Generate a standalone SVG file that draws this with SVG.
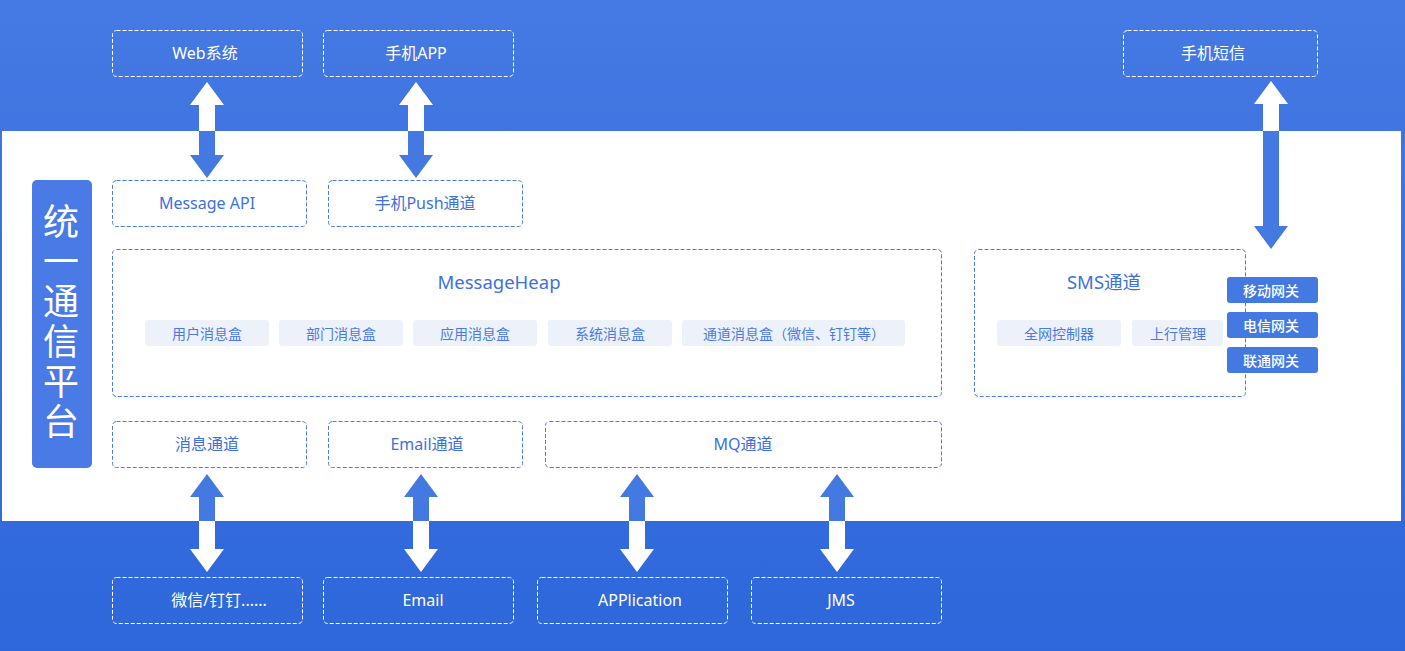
<svg xmlns="http://www.w3.org/2000/svg" width="1405" height="651" viewBox="0 0 1405 651">
<defs>
<linearGradient id="bg" x1="0" y1="0" x2="0" y2="1">
<stop offset="0" stop-color="#4579e3"/>
<stop offset="1" stop-color="#2e67db"/>
</linearGradient>
<clipPath id="band"><rect x="2" y="131" width="1399" height="390"/></clipPath>
<path id="arrUp" d="M0,0 L17,23 L8,23 L8,73 L17,73 L0,96 L-17,73 L-8,73 L-8,23 L-17,23 Z"/>
<path id="arrLong" d="M0,0 L17,23 L8,23 L8,145 L17,145 L0,168 L-17,145 L-8,145 L-8,23 L-17,23 Z"/>
<path id="arrLow" d="M0,0 L17,23 L8,23 L8,75 L17,75 L0,98 L-17,75 L-8,75 L-8,23 L-17,23 Z"/>
</defs>
<style>
text{font-family:"Noto Sans","Noto Sans CJK SC",sans-serif;text-anchor:middle;dominant-baseline:central}
.outer{fill:none;stroke:#ffffff;stroke-width:1;stroke-dasharray:4 2}
.inner{fill:#ffffff;stroke:#4a7ae6;stroke-width:1;stroke-dasharray:4 2}
.wt{fill:#ffffff;font-size:16px}
.bt{fill:#3d71e0;font-size:16px}
.ht{fill:#3d71e0;font-size:18.5px}
.pill{fill:#edf1f9}
.pt{fill:#4a7ae6;font-size:14px}
.gw{fill:#4479e2}
.gt{fill:#ffffff;font-size:14px;font-weight:500}
.aw{fill:#ffffff}
.ab{fill:#4479e2}
.vt{fill:#ffffff;font-size:36px;writing-mode:vertical-rl;letter-spacing:4px;font-family:"Noto Sans CJK SC",sans-serif}
</style>
<rect x="0" y="0" width="1405" height="651" fill="url(#bg)"/>
<rect x="2" y="131" width="1399" height="390" fill="#ffffff"/>

<g id="connectors">
<g>
<use href="#arrUp" x="207" y="82" class="aw"/>
<use href="#arrUp" x="416" y="82" class="aw"/>
<use href="#arrLong" x="1271" y="81" class="aw"/>
<use href="#arrLow" x="207" y="474" class="aw"/>
<use href="#arrLow" x="421" y="474" class="aw"/>
<use href="#arrLow" x="637" y="474" class="aw"/>
<use href="#arrLow" x="837" y="474" class="aw"/>
</g>
<g clip-path="url(#band)">
<use href="#arrUp" x="207" y="82" class="ab"/>
<use href="#arrUp" x="416" y="82" class="ab"/>
<use href="#arrLong" x="1271" y="81" class="ab"/>
<use href="#arrLow" x="207" y="474" class="ab"/>
<use href="#arrLow" x="421" y="474" class="ab"/>
<use href="#arrLow" x="637" y="474" class="ab"/>
<use href="#arrLow" x="837" y="474" class="ab"/>
</g>
</g>

<g id="platform">
<rect x="32" y="180" width="60" height="288" rx="5" fill="#4a7ae6"/>
<text x="61" y="203" class="vt" style="text-anchor:start">统一通信平台</text>
</g>

<g id="web"><rect x="112.5" y="30.5" width="190" height="46" rx="4" class="outer"/><text x="205" y="53" class="wt">Web系统</text></g>
<g id="app"><rect x="323.5" y="30.5" width="190" height="46" rx="4" class="outer"/><text x="416" y="53" class="wt">手机APP</text></g>
<g id="sms-phone"><rect x="1123.5" y="30.5" width="194" height="46" rx="4" class="outer"/><text x="1213" y="53" class="wt">手机短信</text></g>

<g id="msgapi"><rect x="112.5" y="180.5" width="194" height="46" rx="4" class="inner"/><text x="207" y="203" class="bt">Message API</text></g>
<g id="push"><rect x="328.5" y="180.5" width="194" height="46" rx="4" class="inner"/><text x="425" y="203" class="bt">手机Push通道</text></g>

<g id="heap">
<rect x="112.5" y="249.5" width="829" height="147" rx="4" class="inner"/>
<text x="499" y="281" class="ht">MessageHeap</text>
<rect x="145" y="320" width="124" height="26" rx="3" class="pill"/><text x="207" y="333" class="pt">用户消息盒</text>
<rect x="279" y="320" width="124" height="26" rx="3" class="pill"/><text x="341" y="333" class="pt">部门消息盒</text>
<rect x="413" y="320" width="124" height="26" rx="3" class="pill"/><text x="475" y="333" class="pt">应用消息盒</text>
<rect x="548" y="320" width="124" height="26" rx="3" class="pill"/><text x="610" y="333" class="pt">系统消息盒</text>
<rect x="682" y="320" width="223" height="26" rx="3" class="pill"/><text x="794" y="333" class="pt">通道消息盒（微信、钉钉等）</text>
</g>

<g id="sms">
<rect x="974.5" y="249.5" width="271" height="147" rx="4" class="inner"/>
<text x="1104" y="281" class="ht">SMS通道</text>
<rect x="997" y="320" width="124" height="26" rx="3" class="pill"/><text x="1059" y="333" class="pt">全网控制器</text>
<rect x="1132" y="320" width="91" height="26" rx="3" class="pill"/><text x="1178" y="333" class="pt">上行管理</text>
</g>

<g id="gw-mobile"><rect x="1227" y="277" width="91" height="26" rx="3" class="gw"/><text x="1271" y="290" class="gt">移动网关</text></g>
<g id="gw-telecom"><rect x="1227" y="312" width="91" height="26" rx="3" class="gw"/><text x="1271" y="325" class="gt">电信网关</text></g>
<g id="gw-unicom"><rect x="1227" y="347" width="91" height="26" rx="3" class="gw"/><text x="1271" y="360" class="gt">联通网关</text></g>

<g id="msgch"><rect x="112.5" y="421.5" width="194" height="46" rx="4" class="inner"/><text x="207" y="444" class="bt">消息通道</text></g>
<g id="emailch"><rect x="328.5" y="421.5" width="194" height="46" rx="4" class="inner"/><text x="427" y="444" class="bt">Email通道</text></g>
<g id="mqch"><rect x="545.5" y="421.5" width="396" height="46" rx="4" class="inner"/><text x="743" y="444" class="bt">MQ通道</text></g>

<g id="wechat"><rect x="112.5" y="577.5" width="190" height="46" rx="4" class="outer"/><text x="219" y="600" class="wt">微信/钉钉......</text></g>
<g id="email"><rect x="323.5" y="577.5" width="190" height="46" rx="4" class="outer"/><text x="423" y="600" class="wt">Email</text></g>
<g id="application"><rect x="537.5" y="577.5" width="190" height="46" rx="4" class="outer"/><text x="640" y="600" class="wt">APPlication</text></g>
<g id="jms"><rect x="751.5" y="577.5" width="190" height="46" rx="4" class="outer"/><text x="841" y="600" class="wt">JMS</text></g>
</svg>
